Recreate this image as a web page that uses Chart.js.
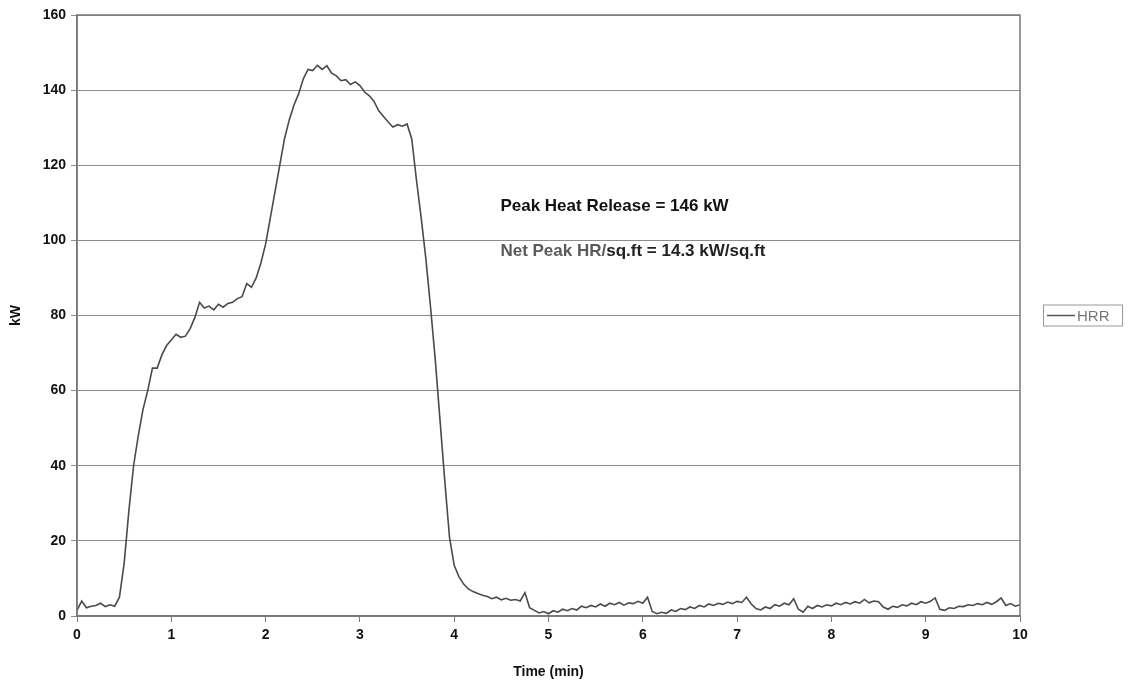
<!DOCTYPE html>
<html>
<head>
<meta charset="utf-8">
<script src="https://cdn.jsdelivr.net/npm/chart.js@4.4.1/dist/chart.umd.min.js"></script>
<style>
  html, body { margin: 0; padding: 0; background: #fff; }
  #wrap { width: 1130px; height: 685px; position: relative; }
</style>
</head>
<body>
<div id="wrap"><canvas id="hrrChart" width="1130" height="685"></canvas></div>
<script>
// temps (min)
const timeMin = [
  0.00, 0.05, 0.10, 0.15, 0.20, 0.25, 0.30, 0.35, 0.40, 0.45,
  0.50, 0.55, 0.60, 0.65, 0.70, 0.75, 0.80, 0.85, 0.90, 0.95,
  1.00, 1.05, 1.10, 1.15, 1.20, 1.25, 1.30, 1.35, 1.40, 1.45,
  1.50, 1.55, 1.60, 1.65, 1.70, 1.75, 1.80, 1.85, 1.90, 1.95,
  2.00, 2.05, 2.10, 2.15, 2.20, 2.25, 2.30, 2.35, 2.40, 2.45,
  2.50, 2.55, 2.60, 2.65, 2.70, 2.75, 2.80, 2.85, 2.90, 2.95,
  3.00, 3.05, 3.10, 3.15, 3.20, 3.25, 3.30, 3.35, 3.40, 3.45,
  3.50, 3.55, 3.60, 3.65, 3.70, 3.75, 3.80, 3.85, 3.90, 3.95,
  4.00, 4.05, 4.10, 4.15, 4.20, 4.25, 4.30, 4.35, 4.40, 4.45,
  4.50, 4.55, 4.60, 4.65, 4.70, 4.75, 4.80, 4.85, 4.90, 4.95,
  5.00, 5.05, 5.10, 5.15, 5.20, 5.25, 5.30, 5.35, 5.40, 5.45,
  5.50, 5.55, 5.60, 5.65, 5.70, 5.75, 5.80, 5.85, 5.90, 5.95,
  6.00, 6.05, 6.10, 6.15, 6.20, 6.25, 6.30, 6.35, 6.40, 6.45,
  6.50, 6.55, 6.60, 6.65, 6.70, 6.75, 6.80, 6.85, 6.90, 6.95,
  7.00, 7.05, 7.10, 7.15, 7.20, 7.25, 7.30, 7.35, 7.40, 7.45,
  7.50, 7.55, 7.60, 7.65, 7.70, 7.75, 7.80, 7.85, 7.90, 7.95,
  8.00, 8.05, 8.10, 8.15, 8.20, 8.25, 8.30, 8.35, 8.40, 8.45,
  8.50, 8.55, 8.60, 8.65, 8.70, 8.75, 8.80, 8.85, 8.90, 8.95,
  9.00, 9.05, 9.10, 9.15, 9.20, 9.25, 9.30, 9.35, 9.40, 9.45,
  9.50, 9.55, 9.60, 9.65, 9.70, 9.75, 9.80, 9.85, 9.90, 9.95,
  10.00
];

// HRR (kW)
const hrrKw = [
  1.5, 4.0, 2.2, 2.6, 2.8, 3.4, 2.5, 3.0, 2.6, 5.0,
  14, 28, 40, 48, 55, 60, 66, 66, 69.5, 72,
  73.5, 75, 74.2, 74.5, 76.5, 79.5, 83.5, 82, 82.5, 81.5,
  83, 82.2, 83.2, 83.5, 84.5, 85, 88.5, 87.5, 90, 94,
  99, 106, 113, 120, 127, 132, 136, 139, 143, 145.5,
  145.2, 146.6, 145.5, 146.5, 144.5, 143.8, 142.5, 142.8, 141.5, 142.2,
  141.2, 139.5, 138.5, 137, 134.5, 133, 131.5, 130.2, 130.8, 130.4,
  131, 127, 116, 106, 95, 82, 68, 52, 36, 21,
  13.5, 10.5, 8.5, 7.2, 6.5, 6.0, 5.5, 5.2, 4.6, 5.0,
  4.3, 4.7, 4.2, 4.4, 4.0, 6.2, 2.2, 1.5, 0.8, 1.2,
  0.6, 1.4, 1.0, 1.8, 1.4, 2.0, 1.6, 2.6, 2.2, 2.8,
  2.4, 3.2, 2.6, 3.4, 3.0, 3.6, 2.9, 3.5, 3.3, 3.9,
  3.4, 5.0, 1.2, 0.6, 1.0, 0.7, 1.6, 1.2, 2.0, 1.7,
  2.4, 2.0, 2.8, 2.4, 3.2, 2.8, 3.4, 3.1, 3.7, 3.3,
  3.9, 3.6, 5.0, 3.2, 2.0, 1.6, 2.4, 2.0, 3.0, 2.6,
  3.4, 3.0, 4.6, 1.8, 1.0, 2.6, 2.0, 2.8, 2.4, 3.0,
  2.7, 3.4, 3.0, 3.6, 3.2, 3.8, 3.4, 4.4, 3.5, 4.0,
  3.8, 2.4, 1.8, 2.6, 2.3, 3.0, 2.7, 3.4, 3.0, 3.8,
  3.4, 3.9, 4.8, 1.8, 1.5, 2.2, 2.0, 2.6, 2.5, 3.0,
  2.8, 3.3, 3.0, 3.6, 3.1, 3.8, 4.8, 2.8, 3.3, 2.6,
  3.0
];

const xTicks = [0, 1, 2, 3, 4, 5, 6, 7, 8, 9, 10];
const yTicks = [0, 20, 40, 60, 80, 100, 120, 140, 160];
const peakNote = "Peak Heat Release = 146 kW";
const netNoteA = "Net Peak HR/";
const netNoteB = "sq.ft = 14.3 kW/sq.ft";

const FONT = "'Liberation Sans', Arial, sans-serif";

// cadre + annotations + légende
const extras = {
  id: "extras",
  afterDraw(chart) {
    const { ctx, chartArea: a, scales } = chart;
    ctx.save();
    ctx.strokeStyle = "#7a7a7a";
    ctx.lineWidth = 1.5;
    ctx.strokeRect(a.left, a.top, a.right - a.left, a.bottom - a.top);

    ctx.font = "bold 17px " + FONT;
    ctx.textBaseline = "middle";
    ctx.textAlign = "left";
    const tx = scales.x.getPixelForValue(4.49);
    ctx.fillStyle = "#111";
    ctx.fillText(peakNote, tx, scales.y.getPixelForValue(109.2));
    const ny = scales.y.getPixelForValue(97.0);
    ctx.fillStyle = "#5a5a5a";
    ctx.fillText(netNoteA, tx, ny);
    ctx.fillStyle = "#222";
    ctx.fillText(netNoteB, tx + ctx.measureText(netNoteA).width, ny);

    // légende
    const ly = scales.y.getPixelForValue(80);
    ctx.strokeStyle = "#999";
    ctx.lineWidth = 1;
    ctx.strokeRect(1043.5, ly - 10.5, 79, 21);
    ctx.strokeStyle = "#555";
    ctx.lineWidth = 1.5;
    ctx.beginPath();
    ctx.moveTo(1047, ly);
    ctx.lineTo(1075, ly);
    ctx.stroke();
    ctx.font = "15px " + FONT;
    ctx.fillStyle = "#777";
    ctx.fillText("HRR", 1077, ly + 1);
    ctx.restore();
  }
};

new Chart(document.getElementById("hrrChart").getContext("2d"), {
  type: "line",
  data: {
    datasets: [{
      label: "HRR",
      data: timeMin.map((t, i) => ({ x: t, y: hrrKw[i] })),
      borderColor: "#4a4a4a",
      borderWidth: 1.6,
      pointRadius: 0,
      tension: 0,
      fill: false
    }]
  },
  options: {
    responsive: false,
    animation: false,
    layout: { padding: { top: 15, right: 110, left: 0, bottom: 0 } },
    plugins: { legend: { display: false }, tooltip: { enabled: false } },
    scales: {
      x: {
        type: "linear",
        min: 0, max: 10,
        afterBuildTicks: s => { s.ticks = xTicks.map(v => ({ value: v })); },
        afterFit: s => { s.height = 69; },
        grid: { drawOnChartArea: false, color: "#777", tickLength: 6 },
        border: { color: "#777", width: 1.5 },
        ticks: { color: "#111", font: { family: FONT, size: 14, weight: "bold" }, padding: 5, maxRotation: 0 },
        title: { display: true, text: "Time (min)", color: "#111", font: { family: FONT, size: 14, weight: "bold" }, padding: { top: 6 } }
      },
      y: {
        min: 0, max: 160,
        afterBuildTicks: s => { s.ticks = yTicks.map(v => ({ value: v })); },
        afterFit: s => { s.width = 77; },
        grid: { color: "#8c8c8c", lineWidth: 1, tickLength: 6 },
        border: { color: "#777", width: 1.5 },
        ticks: { color: "#111", font: { family: FONT, size: 14, weight: "bold" }, padding: 5 },
        title: { display: true, text: "kW", color: "#111", font: { family: FONT, size: 14, weight: "bold" }, padding: { bottom: 0, top: 8 } }
      }
    }
  },
  plugins: [extras]
});
</script>
</body>
</html>
